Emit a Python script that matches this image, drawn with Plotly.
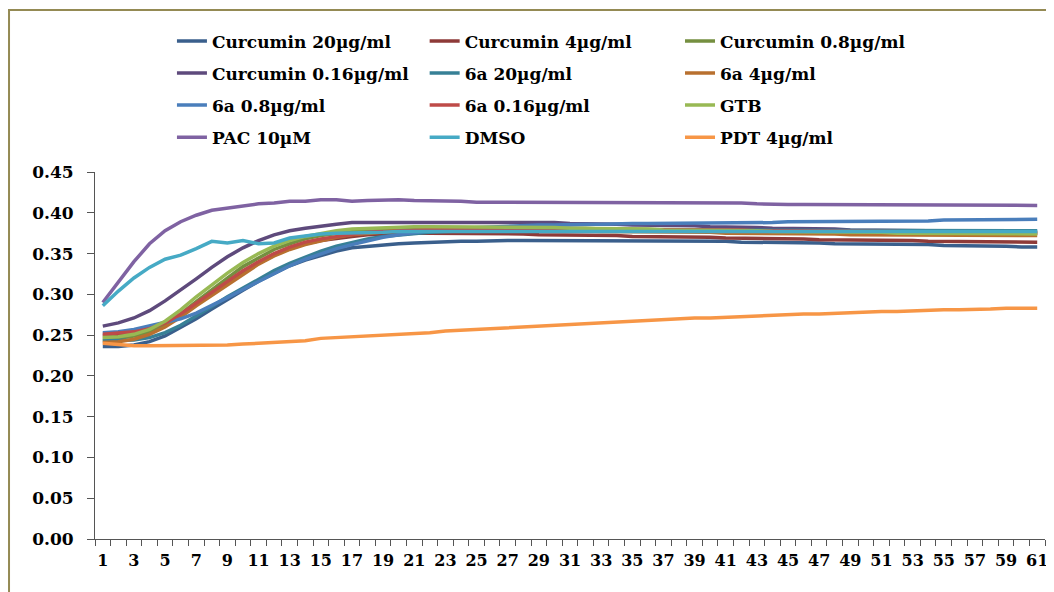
import plotly.graph_objects as go

x_vals = list(range(1, 62))
x_tick_vals = list(range(1, 62, 2))
x_tick_text = [str(v) for v in x_tick_vals]
y_tick_vals = [0.00, 0.05, 0.10, 0.15, 0.20, 0.25, 0.30, 0.35, 0.40, 0.45]
y_tick_text = ["0.00", "0.05", "0.10", "0.15", "0.20", "0.25", "0.30", "0.35", "0.40", "0.45"]

curcumin_20 = [0.236, 0.236, 0.238, 0.242, 0.249, 0.259, 0.270, 0.282, 0.294, 0.305,
               0.316, 0.326, 0.335, 0.342, 0.348, 0.353, 0.357, 0.359, 0.361, 0.362,
               0.363, 0.364, 0.365, 0.365, 0.365, 0.366, 0.366, 0.366, 0.366, 0.366,
               0.366, 0.366, 0.366, 0.366, 0.366, 0.365, 0.365, 0.365, 0.365, 0.365,
               0.365, 0.364, 0.364, 0.364, 0.363, 0.363, 0.363, 0.362, 0.362, 0.362,
               0.362, 0.361, 0.361, 0.361, 0.360, 0.360, 0.359, 0.359, 0.359, 0.358, 0.358]
curcumin_4 = [0.249, 0.250, 0.252, 0.257, 0.264, 0.275, 0.288, 0.301, 0.314, 0.327,
              0.338, 0.348, 0.356, 0.362, 0.366, 0.369, 0.371, 0.373, 0.374, 0.375,
              0.375, 0.375, 0.375, 0.375, 0.375, 0.374, 0.374, 0.374, 0.373, 0.373,
              0.373, 0.372, 0.372, 0.372, 0.371, 0.371, 0.371, 0.370, 0.370, 0.370,
              0.369, 0.369, 0.369, 0.368, 0.368, 0.368, 0.367, 0.367, 0.367, 0.366,
              0.366, 0.366, 0.366, 0.365, 0.365, 0.365, 0.365, 0.364, 0.364, 0.364, 0.364]
curcumin_08 = [0.245, 0.246, 0.249, 0.254, 0.263, 0.276, 0.291, 0.306, 0.320, 0.334,
               0.345, 0.355, 0.362, 0.368, 0.372, 0.375, 0.377, 0.379, 0.380, 0.381,
               0.381, 0.382, 0.382, 0.382, 0.382, 0.382, 0.382, 0.381, 0.381, 0.381,
               0.381, 0.381, 0.380, 0.380, 0.380, 0.380, 0.379, 0.379, 0.379, 0.379,
               0.378, 0.378, 0.378, 0.378, 0.377, 0.377, 0.377, 0.377, 0.376, 0.376,
               0.376, 0.376, 0.376, 0.375, 0.375, 0.375, 0.375, 0.375, 0.375, 0.375, 0.375]
curcumin_016 = [0.261, 0.265, 0.271, 0.280, 0.292, 0.305, 0.319, 0.333, 0.346, 0.357,
                0.366, 0.373, 0.378, 0.381, 0.384, 0.386, 0.388, 0.388, 0.389, 0.389,
                0.389, 0.389, 0.389, 0.389, 0.389, 0.389, 0.388, 0.388, 0.388, 0.388,
                0.387, 0.387, 0.386, 0.386, 0.385, 0.385, 0.384, 0.384, 0.384, 0.383,
                0.383, 0.382, 0.382, 0.381, 0.381, 0.380, 0.380, 0.380, 0.379, 0.379,
                0.379, 0.378, 0.378, 0.378, 0.377, 0.377, 0.377, 0.376, 0.376, 0.376, 0.376]
a6_20 = [0.243, 0.243, 0.244, 0.247, 0.253, 0.262, 0.273, 0.285, 0.297, 0.308,
         0.319, 0.329, 0.338, 0.346, 0.353, 0.359, 0.364, 0.368, 0.371, 0.373,
         0.375, 0.376, 0.377, 0.378, 0.378, 0.379, 0.379, 0.379, 0.379, 0.379,
         0.379, 0.379, 0.379, 0.379, 0.379, 0.379, 0.379, 0.379, 0.379, 0.379,
         0.379, 0.379, 0.379, 0.379, 0.379, 0.379, 0.379, 0.379, 0.378, 0.378,
         0.378, 0.378, 0.378, 0.378, 0.378, 0.378, 0.378, 0.378, 0.378, 0.378, 0.378]
a6_4 = [0.241, 0.242, 0.245, 0.251, 0.260, 0.272, 0.286, 0.299, 0.312, 0.325,
        0.337, 0.347, 0.355, 0.361, 0.366, 0.370, 0.373, 0.375, 0.377, 0.378,
        0.378, 0.379, 0.379, 0.379, 0.379, 0.379, 0.379, 0.379, 0.378, 0.378,
        0.378, 0.378, 0.377, 0.377, 0.377, 0.377, 0.376, 0.376, 0.376, 0.376,
        0.375, 0.375, 0.375, 0.375, 0.374, 0.374, 0.374, 0.374, 0.373, 0.373,
        0.373, 0.373, 0.373, 0.372, 0.372, 0.372, 0.372, 0.372, 0.372, 0.372, 0.372]
a6_08 = [0.253, 0.254, 0.257, 0.261, 0.265, 0.270, 0.277, 0.286, 0.296, 0.306,
         0.316, 0.326, 0.335, 0.343, 0.350, 0.356, 0.361, 0.366, 0.370, 0.373,
         0.376, 0.378, 0.380, 0.381, 0.382, 0.383, 0.384, 0.384, 0.385, 0.385,
         0.386, 0.386, 0.386, 0.387, 0.387, 0.387, 0.387, 0.388, 0.388, 0.388,
         0.388, 0.388, 0.387, 0.388, 0.389, 0.389, 0.390, 0.390, 0.390, 0.390,
         0.390, 0.390, 0.390, 0.390, 0.391, 0.391, 0.391, 0.391, 0.392, 0.392, 0.392]
a6_016 = [0.251, 0.252, 0.254, 0.258, 0.265, 0.276, 0.289, 0.302, 0.316, 0.329,
          0.340, 0.350, 0.358, 0.364, 0.368, 0.371, 0.374, 0.376, 0.377, 0.378,
          0.379, 0.380, 0.380, 0.380, 0.380, 0.380, 0.380, 0.380, 0.380, 0.380,
          0.380, 0.380, 0.380, 0.380, 0.380, 0.380, 0.380, 0.379, 0.379, 0.379,
          0.379, 0.379, 0.378, 0.378, 0.378, 0.378, 0.378, 0.377, 0.377, 0.377,
          0.377, 0.377, 0.376, 0.376, 0.376, 0.376, 0.376, 0.375, 0.375, 0.375, 0.375]
gtb = [0.247, 0.248, 0.251, 0.257, 0.267, 0.281, 0.297, 0.312, 0.326, 0.339,
       0.350, 0.359, 0.366, 0.371, 0.375, 0.378, 0.380, 0.381, 0.382, 0.383,
       0.383, 0.383, 0.383, 0.383, 0.383, 0.383, 0.382, 0.382, 0.382, 0.382,
       0.381, 0.381, 0.381, 0.380, 0.380, 0.380, 0.379, 0.379, 0.379, 0.379,
       0.378, 0.378, 0.378, 0.377, 0.377, 0.377, 0.377, 0.376, 0.376, 0.376,
       0.376, 0.375, 0.375, 0.375, 0.375, 0.374, 0.374, 0.374, 0.374, 0.374, 0.374]
pac_10 = [0.290, 0.315, 0.340, 0.362, 0.378, 0.389, 0.397, 0.403, 0.406, 0.409,
          0.411, 0.412, 0.414, 0.414, 0.416, 0.416, 0.414, 0.415, 0.416, 0.416,
          0.415, 0.415, 0.414, 0.414, 0.413, 0.413, 0.413, 0.413, 0.413, 0.413,
          0.413, 0.412, 0.412, 0.412, 0.412, 0.412, 0.412, 0.412, 0.412, 0.412,
          0.412, 0.412, 0.411, 0.410, 0.410, 0.410, 0.410, 0.410, 0.410, 0.410,
          0.410, 0.410, 0.410, 0.410, 0.409, 0.409, 0.409, 0.409, 0.409, 0.409, 0.409]
dmso = [0.286, 0.304, 0.320, 0.333, 0.343, 0.348, 0.356, 0.365, 0.363, 0.366,
        0.362, 0.363, 0.369, 0.372, 0.374, 0.375, 0.375, 0.376, 0.376, 0.377,
        0.377, 0.377, 0.377, 0.377, 0.377, 0.377, 0.377, 0.378, 0.378, 0.378,
        0.378, 0.378, 0.378, 0.378, 0.378, 0.378, 0.378, 0.378, 0.378, 0.378,
        0.378, 0.378, 0.378, 0.378, 0.378, 0.378, 0.378, 0.378, 0.378, 0.378,
        0.378, 0.378, 0.378, 0.378, 0.378, 0.378, 0.377, 0.377, 0.377, 0.377, 0.377]
pdt_4 = [0.240, 0.238, 0.237, 0.237, 0.237, 0.237, 0.237, 0.237, 0.238, 0.239,
         0.240, 0.241, 0.242, 0.243, 0.246, 0.247, 0.247, 0.248, 0.249, 0.251,
         0.252, 0.253, 0.255, 0.256, 0.257, 0.259, 0.260, 0.261, 0.262, 0.263,
         0.264, 0.265, 0.266, 0.267, 0.267, 0.268, 0.269, 0.270, 0.271, 0.271,
         0.272, 0.272, 0.273, 0.274, 0.275, 0.276, 0.276, 0.277, 0.277, 0.278,
         0.279, 0.279, 0.280, 0.280, 0.281, 0.281, 0.281, 0.282, 0.283, 0.283, 0.283]

series_names = ["Curcumin 20µg/ml", "Curcumin 4µg/ml", "Curcumin 0.8µg/ml",
                "Curcumin 0.16µg/ml", "6a 20µg/ml", "6a 4µg/ml",
                "6a 0.8µg/ml", "6a 0.16µg/ml", "GTB",
                "PAC 10µM", "DMSO", "PDT 4µg/ml"]
series_values = [curcumin_20, curcumin_4, curcumin_08, curcumin_016, a6_20, a6_4,
                 a6_08, a6_016, gtb, pac_10, dmso, pdt_4]
series_colors = ["#3A5F8C", "#8E3A38", "#758F40", "#5E4A7C", "#378096", "#B8702F",
                 "#4A7EBB", "#BE4B48", "#98B954", "#7F62A2", "#46AAC5", "#F79646"]
legend_ids = ["legend", "legend2", "legend3"]

fig = go.Figure()
for i, (name, vals, col) in enumerate(zip(series_names, series_values, series_colors)):
    fig.add_trace(go.Scatter(
        x=x_vals, y=vals, mode="lines", name=name,
        line=dict(color=col, width=3.5),
        legend=legend_ids[i % 3], legendgroup=name,
    ))

font_family = "DejaVu Serif"
leg_font = dict(family=font_family, size=17, color="#000000", weight="bold")
legend_common = dict(orientation="v", font=leg_font, tracegroupgap=7,
                     traceorder="grouped", bgcolor="rgba(0,0,0,0)",
                     xanchor="left", yanchor="top", y=1.405)

# page body has an 8px margin, so the figure is sized 8px smaller in each direction
fig.update_layout(
    width=1046, height=584,
    margin=dict(l=87, r=9, t=164, b=53, autoexpand=False),
    paper_bgcolor="#FFFFFF", plot_bgcolor="#FFFFFF",
    showlegend=True,
    legend=dict(x=0.081, **legend_common),
    legend2=dict(x=0.347, **legend_common),
    legend3=dict(x=0.6158, **legend_common),
    xaxis=dict(
        range=[0.5, 61.5], tickmode="array", tickvals=x_tick_vals, ticktext=x_tick_text,
        ticks="", showline=True, linecolor="#555555", linewidth=1,
        showgrid=False, zeroline=False,
        tickfont=dict(family=font_family, size=16, color="#000000", weight="bold"),
        ticklabelstandoff=7,
        minor=dict(tickmode="array", tickvals=[v + 0.5 for v in range(0, 62)],
                   ticks="outside", ticklen=6, tickcolor="#555555", tickwidth=1, showgrid=False),
    ),
    yaxis=dict(
        range=[0, 0.45], tickmode="array", tickvals=y_tick_vals, ticktext=y_tick_text,
        ticks="outside", ticklen=7, tickcolor="#555555",
        showline=True, linecolor="#555555", linewidth=1,
        showgrid=False, zeroline=False,
        tickfont=dict(family=font_family, size=17, color="#000000", weight="bold"),
        ticklabelstandoff=10,
    ),
    shapes=[dict(type="rect", xref="paper", yref="paper",
                 x0=-0.0905, x1=1.02, y0=-0.2, y1=1.4414,
                 line=dict(color="#948A54", width=2), fillcolor="rgba(0,0,0,0)", layer="below")],
)

fig.write_html("out.html")
